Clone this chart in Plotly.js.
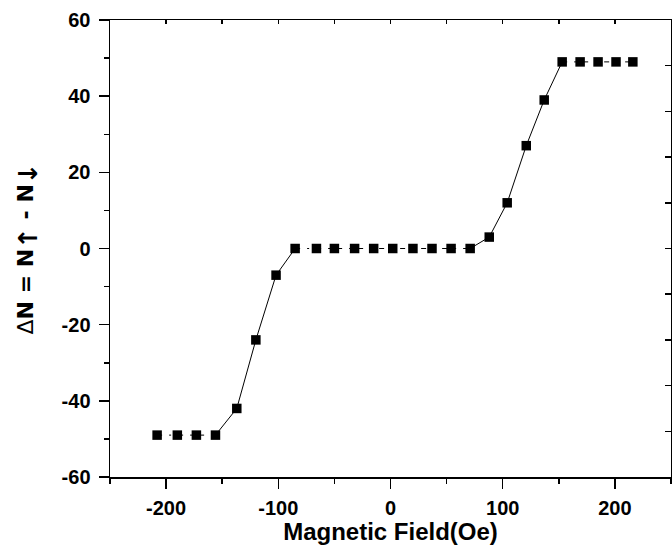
<!DOCTYPE html>
<html>
<head>
<meta charset="utf-8">
<script src="https://cdn.plot.ly/plotly-3.0.1.min.js"></script>
<style>html,body{margin:0;padding:0;background:#fff;}#chart{width:672px;height:547px;}</style>
</head>
<body>
<div id="chart"></div>
<script>
// Data
const fieldOe = [-208, -190, -173, -156, -137, -120, -102, -85, -66, -50, -32, -15, 2, 20, 37, 54, 71, 88, 104, 121, 137, 153, 169, 185, 201, 216];
const deltaN  = [-49, -49, -49, -49, -42, -24, -7, 0, 0, 0, 0, 0, 0, 0, 0, 0, 0, 3, 12, 27, 39, 49, 49, 49, 49, 49];
// index ranges: plateaus (dash-dot) and transitions (solid)
const plateauRanges = [[0, 3], [7, 16], [21, 25]];
const slopeRanges = [[3, 7], [16, 21]];
const xTickVals = [-200, -100, 0, 100, 200];
const yTickVals = [-60, -40, -20, 0, 20, 40, 60];

const FONT = 'Liberation Sans, Arial, sans-serif';
const traces = [];
function seg(r, dash) {
  return {
    x: fieldOe.slice(r[0], r[1] + 1),
    y: deltaN.slice(r[0], r[1] + 1),
    type: 'scatter',
    mode: 'lines',
    line: {color: '#000', width: 1, dash: dash},
    showlegend: false,
    hoverinfo: 'skip'
  };
}
slopeRanges.forEach(r => traces.push(seg(r, 'solid')));
plateauRanges.forEach(r => traces.push(seg(r, '5px,7px,2px,7px')));
// markers on top
traces.push({
  x: fieldOe, y: deltaN, type: 'scatter', mode: 'markers',
  marker: {symbol: 'square', size: 9.5, color: '#000'}, showlegend: false
});
// empty trace to bring up mirrored axes (top/right with inside ticks)
traces.push({x: [], y: [], xaxis: 'x2', yaxis: 'y2', type: 'scatter', mode: 'markers', showlegend: false, hoverinfo: 'skip'});

const layout = {
  width: 672, height: 547,
  margin: {l: 110, r: 1, t: 20, b: 70},
  paper_bgcolor: '#fff', plot_bgcolor: '#fff',
  font: {family: FONT, color: '#000'},
  xaxis: {
    range: [-250, 250], tickvals: xTickVals, ticktext: xTickVals.map(v => '<b>' + v + '</b>'),
    ticks: 'outside', ticklen: 10, tickwidth: 1.5, tickcolor: '#000',
    minor: {dtick: 50, tick0: -250, ticks: 'outside', ticklen: 5, tickwidth: 1.5, tickcolor: '#000'},
    showline: true, linecolor: '#000', linewidth: 1.5,
    showgrid: false, zeroline: false,
    tickfont: {family: FONT, size: 20, color: '#000', weight: 700},
    ticklabelstandoff: 2,
    title: {text: '<b>Magnetic Field(Oe)</b>', font: {family: FONT, size: 24, color: '#000'}, standoff: 5}
  },
  yaxis: {
    range: [-60, 60], tickvals: yTickVals, ticktext: yTickVals.map(v => '<b>' + v + '</b>'),
    ticks: 'outside', ticklen: 10, tickwidth: 1.5, tickcolor: '#000',
    minor: {dtick: 10, tick0: -60, ticks: 'outside', ticklen: 5, tickwidth: 1.5, tickcolor: '#000'},
    showline: true, linecolor: '#000', linewidth: 1.5,
    showgrid: false, zeroline: false,
    tickfont: {family: FONT, size: 20, color: '#000', weight: 700},
    ticklabelstandoff: 4
  },
  xaxis2: {
    overlaying: 'x', side: 'top', range: [-250, 250], dtick: 50, tick0: -250,
    ticks: 'inside', ticklen: 4, tickwidth: 1.5, tickcolor: '#000',
    showticklabels: false, showline: true, linecolor: '#000', linewidth: 1.5,
    showgrid: false, zeroline: false
  },
  yaxis2: {
    overlaying: 'y', side: 'right', range: [-60, 60], dtick: 12, tick0: -60,
    ticks: 'inside', ticklen: 6, tickwidth: 1.5, tickcolor: '#000',
    showticklabels: false, showline: true, linecolor: '#000', linewidth: 1.5,
    showgrid: false, zeroline: false
  },
  annotations: [{
    xref: 'paper', yref: 'paper', x: 0, y: 0.5, xanchor: 'center', yanchor: 'middle',
    xshift: -82, textangle: -90, showarrow: false,
    text: '<span style="font-weight:normal">Δ</span><b>N = N<sub><span style="font-size:26px">↑</span></sub> - N<sub><span style="font-size:26px">↓</span></sub></b>',
    font: {family: 'DejaVu Sans, Liberation Sans, sans-serif', size: 22, color: '#000'}
  }]
};

Plotly.newPlot('chart', traces, layout, {displayModeBar: false, staticPlot: true});
</script>
</body>
</html>
